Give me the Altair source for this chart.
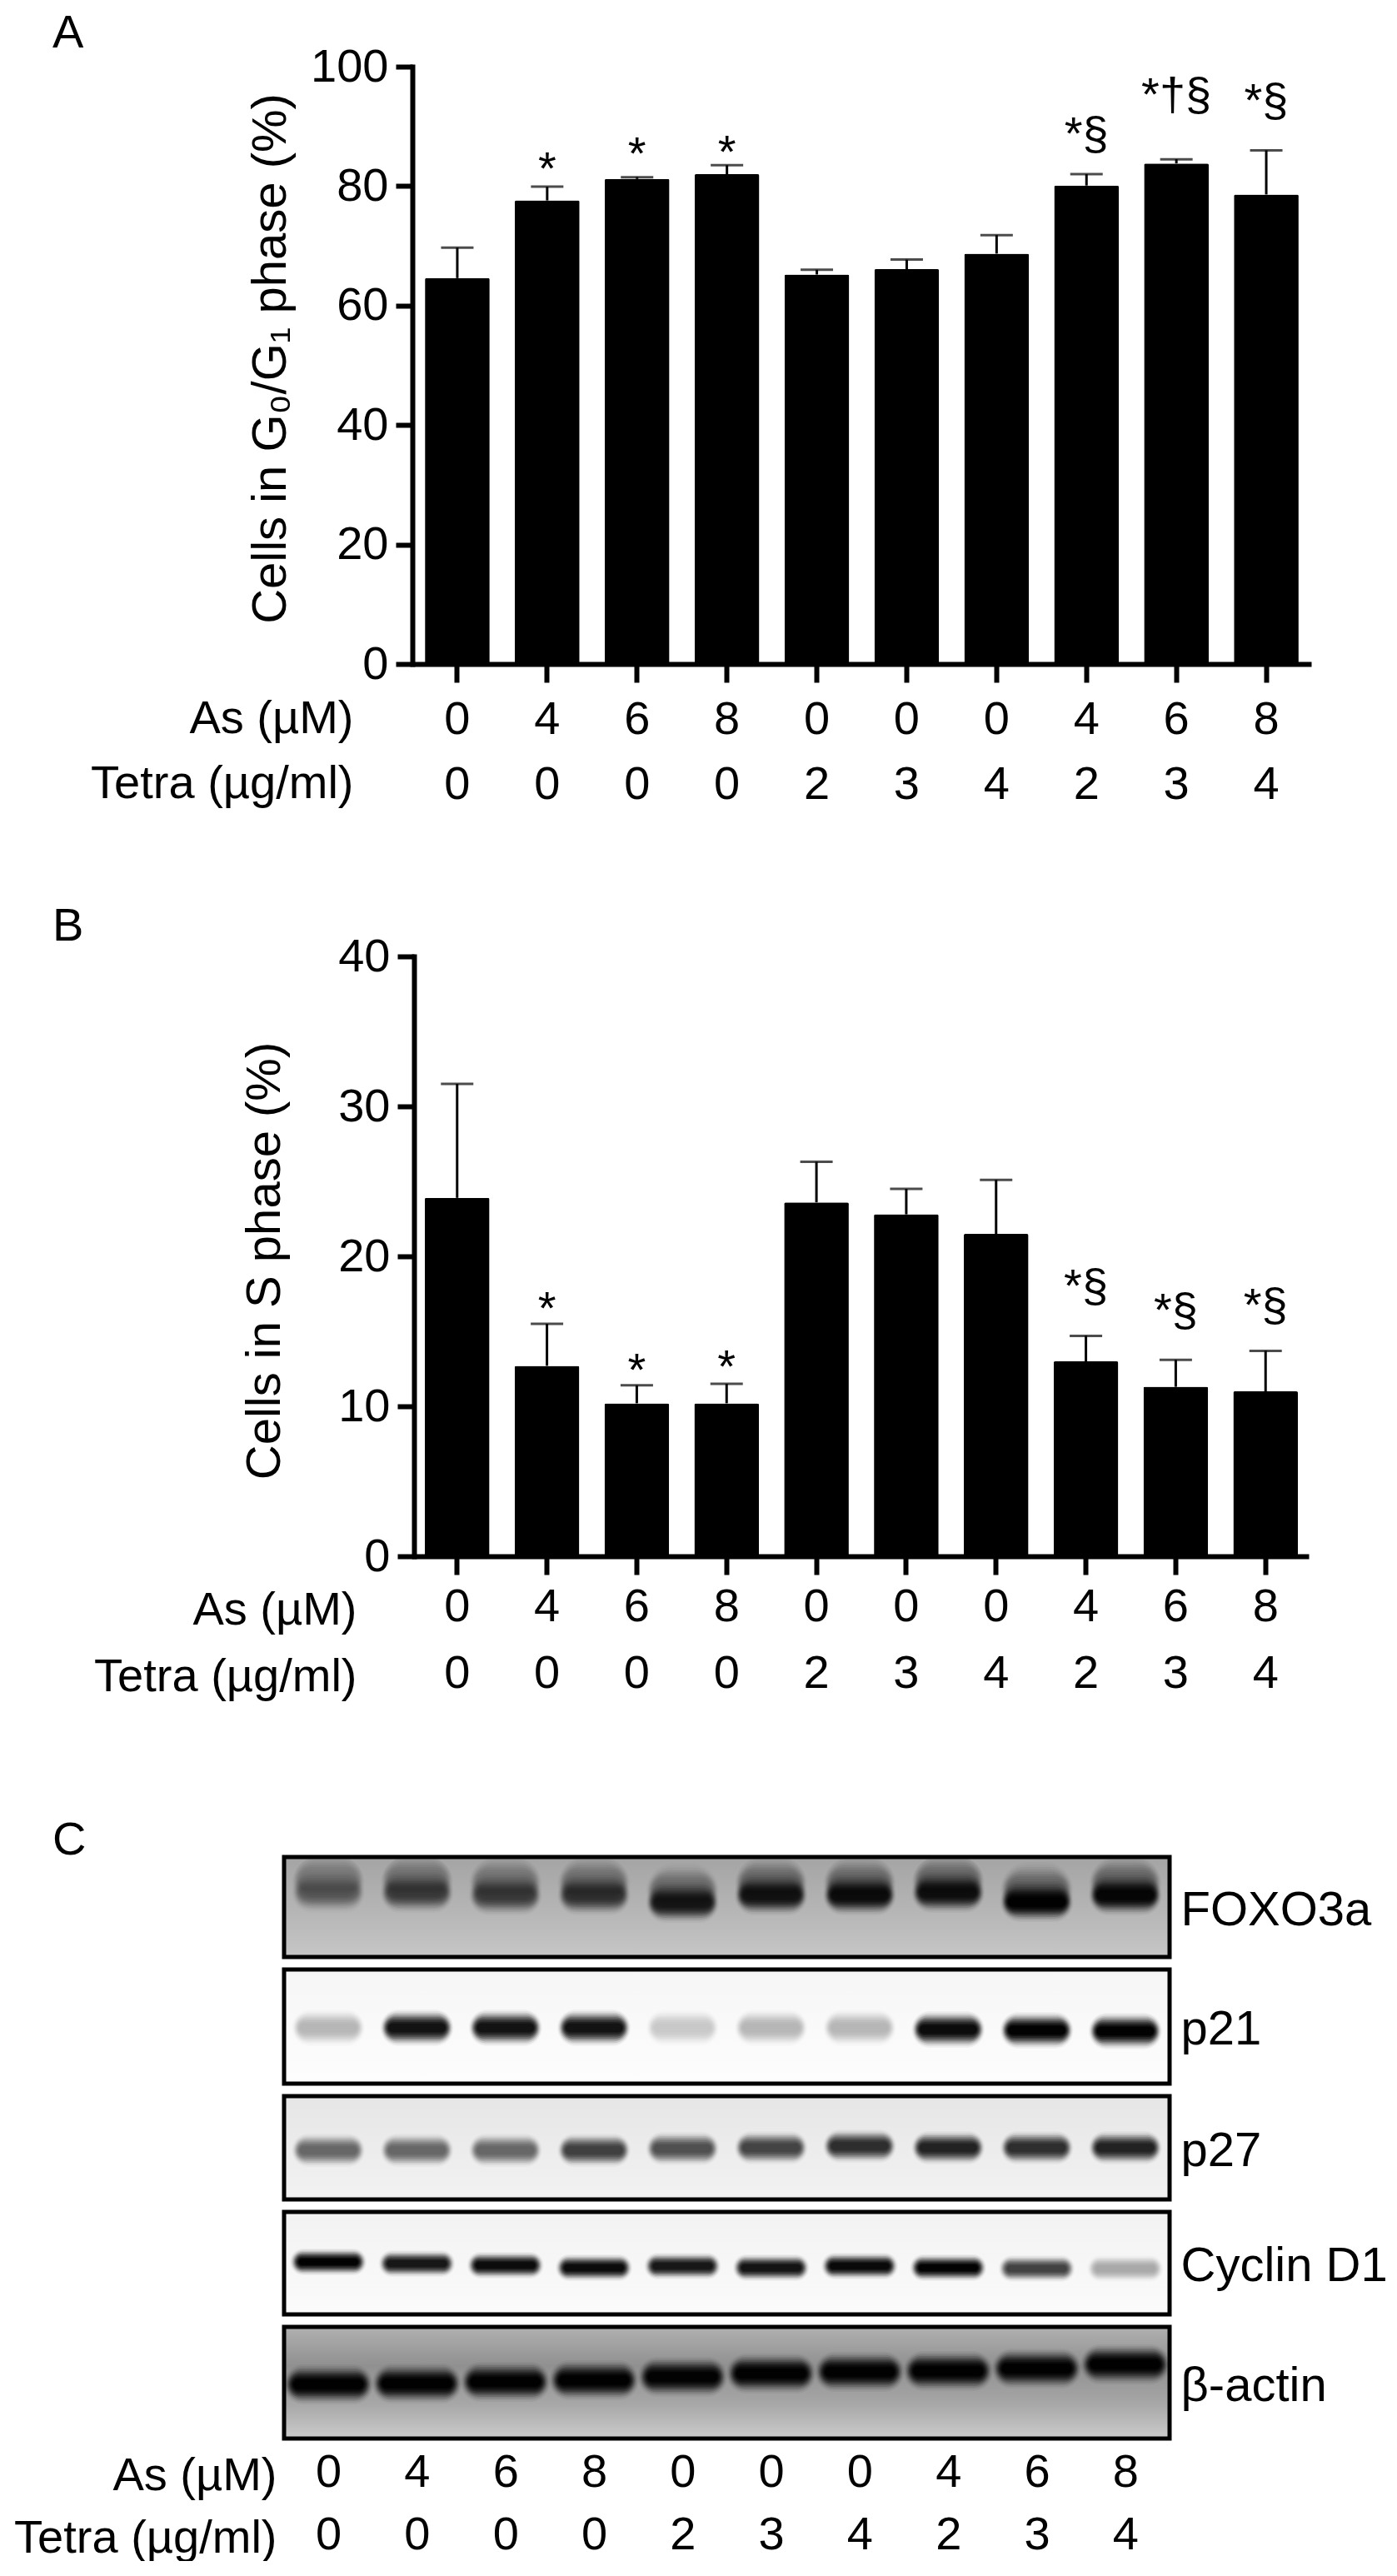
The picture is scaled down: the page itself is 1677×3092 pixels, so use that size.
import altair as alt
import pandas as pd

FONT = "Liberation Sans"
FS = 56
FS_BIG = 58

as_dose = [0, 4, 6, 8, 0, 0, 0, 4, 6, 8]
tetra_dose = [0, 0, 0, 0, 2, 3, 4, 2, 3, 4]
lanes = [f"{a}|{t}" for a, t in zip(as_dose, tetra_dose)]
ROW_TITLES = ["As (µM)", "Tetra (µg/ml)"]

g1_mean = [64.6, 77.6, 81.2, 82.0, 65.2, 66.1, 68.7, 80.1, 83.8, 78.6]
g1_top = [69.7, 79.9, 81.5, 83.5, 66.0, 67.7, 71.8, 82.0, 84.5, 86.0]
g1_sig = ["", "*", "*", "*", "", "", "", "*§", "*†§", "*§"]
g1_sig_y = [0, 80.3, 82.8, 83.1, 0, 0, 0, 86.2, 92.7, 91.8]

s_mean = [23.9, 12.7, 10.2, 10.2, 23.6, 22.8, 21.5, 13.0, 11.3, 11.0]
s_top = [31.5, 15.5, 11.4, 11.5, 26.3, 24.5, 25.1, 14.7, 13.1, 13.7]
s_sig = ["", "*", "*", "*", "", "", "", "*§", "*§", "*§"]
s_sig_y = [0, 15.5, 11.4, 11.6, 0, 0, 0, 17.0, 15.4, 15.7]

# Blot panels: band centre (px from top of panel), darkness per lane
fox_y = [43, 43, 46, 46, 55, 46, 46, 43, 54, 46]
fox_d = [.35, .55, .55, .62, .82, .85, .9, .88, 1.0, .95]
p21_y = [70, 70, 70, 70, 70, 70, 70, 72, 73, 74]
p21_d = [.25, .92, .92, .92, .18, .25, .25, .95, .99, 1.0]
p27_y = [65, 65, 65, 65, 63, 62, 60, 62, 62, 62]
p27_d = [.55, .55, .55, .72, .65, .7, .8, .85, .8, .85]
cyc_y = [60, 62, 64, 67, 65, 67, 65, 67, 68, 68]
cyc_d = [1.0, .9, .95, .95, .9, .92, .96, 1.0, .72, .3]
act_y = [69, 68, 66, 64, 60, 56, 54, 53, 50, 45]
act_d = [1.0, 1.0, 1.0, 1.0, .98, 1.0, 1.0, 1.0, 1.0, 1.0]

BLUR = [.04, .1, .2, .33, .48, .63, .76, .86, .94, 1.0]


def bar_panel(mean, top, sig, sig_y, ymax, ticks, ytitle, letter, rng, outer,
              row_x, row_y, line_h, lab_pad, title_pad, height, title_off, title_y):
    df = pd.DataFrame({"lane": lanes, "m": mean, "t": top, "s": sig, "sy": sig_y})
    x = alt.X(
        "lane:N",
        sort=lanes,
        scale=alt.Scale(domain=lanes, range=rng, paddingInner=0.28, paddingOuter=outer),
        axis=alt.Axis(
            title=ROW_TITLES, titleAlign="right", titleX=row_x, titleY=row_y,
            titleLineHeight=line_h, titleBaseline="alphabetic", titleFontSize=FS,
            titleFontWeight="normal", titleFont=FONT, titleColor="black",
            labelExpr="split(datum.value, '|')", labelAngle=0, labelFontSize=FS,
            labelFont=FONT, labelColor="black", labelLineHeight=line_h,
            labelPadding=lab_pad, labelOverlap=False, tickSize=22, tickWidth=6,
            tickColor="black", domainWidth=6, domainColor="black", grid=False,
        ),
    )
    yscale = alt.Scale(domain=[0, ymax], nice=False)
    yaxis = alt.Axis(
        title=ytitle, values=ticks, offset=-rng[0], tickSize=20, tickWidth=6,
        tickColor="black", domainWidth=6, domainColor="black", domainCap="square",
        labelFontSize=FS, labelFont=FONT, labelColor="black", labelPadding=9,
        titleFontSize=FS_BIG, titleFont=FONT, titleFontWeight="normal", titleColor="black",
        titlePadding=title_pad, titleY=title_y, grid=False,
    )
    base = alt.Chart(df)
    bars = base.mark_bar(color="black", cornerRadius=2).encode(
        x=x, y=alt.Y("m:Q", scale=yscale, axis=yaxis))
    stem = base.mark_rule(color="black", strokeWidth=3).encode(
        x=x, y=alt.Y("t:Q", scale=yscale, axis=yaxis), y2="m:Q")
    cap = base.mark_tick(color="black", size=39, thickness=3).encode(
        x=x, y=alt.Y("t:Q", scale=yscale, axis=yaxis))
    txt = base.transform_filter("datum.s != ''").mark_text(
        font=FONT, fontSize=FS, color="black", align="center", baseline="alphabetic"
    ).encode(
        x=x, y=alt.Y("sy:Q", scale=yscale, axis=yaxis), text="s:N")
    return alt.layer(bars, stem, cap, txt).properties(
        width=1233, height=height,
        title=alt.TitleParams(letter, anchor="start", frame="group", font=FONT, fontSize=FS,
                              fontWeight="normal", color="black", dx=-278, offset=title_off,
                              baseline="alphabetic"),
    )


def blot_panel(name, height, centres, dark, half_len, half_th, stops, extra=None, bottom=False, title=None):
    rows = []
    K = len(BLUR)

    def add(i, yc, d, hl, ht):
        d = min(d, 0.99)
        prev = 0.0
        for k, p in enumerate(BLUR):
            tgt = d * p
            op = 1 - (1 - tgt) / (1 - prev)
            prev = tgt
            fy = 1 - 0.85 * k / K
            fx = (1 - 0.25 * k / K) * hl / 106.3
            rows.append({
                "x": i + 0.5 - fx, "x2": i + 0.5 + fx,
                "y": max(yc - ht * fy, 0), "y2": min(yc + ht * fy, height), "o": op,
            })

    for i, (yc, d) in enumerate(zip(centres, dark)):
        if extra:
            add(i, yc - extra[0], extra[1] * (0.5 + 0.5 * d), half_len, extra[2])
        add(i, yc, d, half_len, half_th)
    bands = pd.DataFrame(rows)
    box = pd.DataFrame({"x": [0], "x2": [10], "y": [0], "y2": [height]})
    if bottom:
        labs = "[" + ",".join(f"'{l}'" for l in lanes) + "]"
        xaxis = alt.Axis(
            title=ROW_TITLES, values=[i + 0.5 for i in range(10)],
            labelExpr=f"split({labs}[floor(datum.value)], '|')", labelAngle=0,
            labelFontSize=FS, labelFont=FONT, labelColor="black", labelLineHeight=75,
            labelPadding=13, labelOverlap=False, labelFlush=False, ticks=False, domain=False, grid=False,
            titleAlign="right", titleX=-9, titleY=61, titleLineHeight=75,
            titleBaseline="alphabetic", titleFontSize=FS, titleFontWeight="normal",
            titleFont=FONT, titleColor="black",
        )
    else:
        xaxis = None
    x = alt.X("x:Q", scale=alt.Scale(domain=[0, 10], nice=False, zero=False), axis=xaxis)
    y = alt.Y(
        "y:Q", scale=alt.Scale(domain=[height, 0], nice=False, zero=False),
        axis=alt.Axis(orient="right", title=name, titleAngle=0, titleAlign="left",
                      titleBaseline="middle", titleFontSize=FS_BIG, titleFont=FONT,
                      titleFontWeight="normal", titleColor="black", titlePadding=13,
                      titleY=height / 2 + 4,
                      labels=False, ticks=False, domain=False, grid=False),
    )
    grad = alt.LinearGradient(gradient="linear", x1=0, x2=0, y1=0, y2=1,
                              stops=[alt.GradientStop(offset=o, color=c) for o, c in stops])
    bg = alt.Chart(box).mark_rect(fill=grad).encode(x=x, x2="x2:Q", y=y, y2="y2:Q")
    bnd = alt.Chart(bands).mark_rect(color="black", cornerRadius=60).encode(
        x=x, x2="x2:Q", y=y, y2="y2:Q",
        opacity=alt.Opacity("o:Q", scale=None),
    )
    frame = alt.Chart(box).mark_rect(fillOpacity=0, stroke="black", strokeWidth=5).encode(
        x=x, x2="x2:Q", y=y, y2="y2:Q",
    )
    props = dict(width=1063, height=height)
    if title:
        props["title"] = alt.TitleParams(title, anchor="start", frame="group", font=FONT, fontSize=FS,
                                         fontWeight="normal", color="black", dx=-278, offset=-55,
                                         baseline="alphabetic")
    return alt.layer(bg, bnd, frame).properties(**props)


A = bar_panel(g1_mean, g1_top, g1_sig, g1_sig_y, 100, [0, 20, 40, 60, 80, 100],
              "Cells in G₀/G₁ phase (%)", "A", [154, 1233], 0.14, 83, 82, 78, 17, 18, 717, -61, 350)
B = bar_panel(s_mean, s_top, s_sig, s_sig_y, 40, [0, 10, 20, 30, 40],
              "Cells in S phase (%)", "B", [156, 1230], 0.12, 87, 81, 80, 11, 58, 720, -65, 365)

C = alt.vconcat(
    blot_panel("FOXO3a", 120, fox_y, fox_d, 44, 24,
               [(0, "#a4a4a4"), (0.5, "#b4b4b4"), (1, "#c6c6c6")], extra=(14, 0.45, 34), title="C"),
    blot_panel("p21", 137, p21_y, p21_d, 44, 22, [(0, "#f6f6f6"), (1, "#fdfdfd")]),
    blot_panel("p27", 124, p27_y, p27_d, 44, 20, [(0, "#e6e6e6"), (1, "#f2f2f2")]),
    blot_panel("Cyclin D1", 123, cyc_y, cyc_d, 46, 16, [(0, "#f2f2f2"), (1, "#fbfbfb")]),
    blot_panel("β-actin", 134, act_y, act_d, 54, 24,
               [(0, "#b0b0b0"), (0.35, "#909090"), (0.7, "#a8a8a8"), (1, "#cccccc")], bottom=True),
    spacing=9,
)

top_two = alt.vconcat(A, B, spacing=115)
chart = alt.vconcat(top_two, C, spacing=140,
                    padding={"left": 8, "top": 4, "right": 0, "bottom": 0}).configure_view(stroke=None)
chart.save("out.html", embed_options={"renderer": "svg", "actions": False})
